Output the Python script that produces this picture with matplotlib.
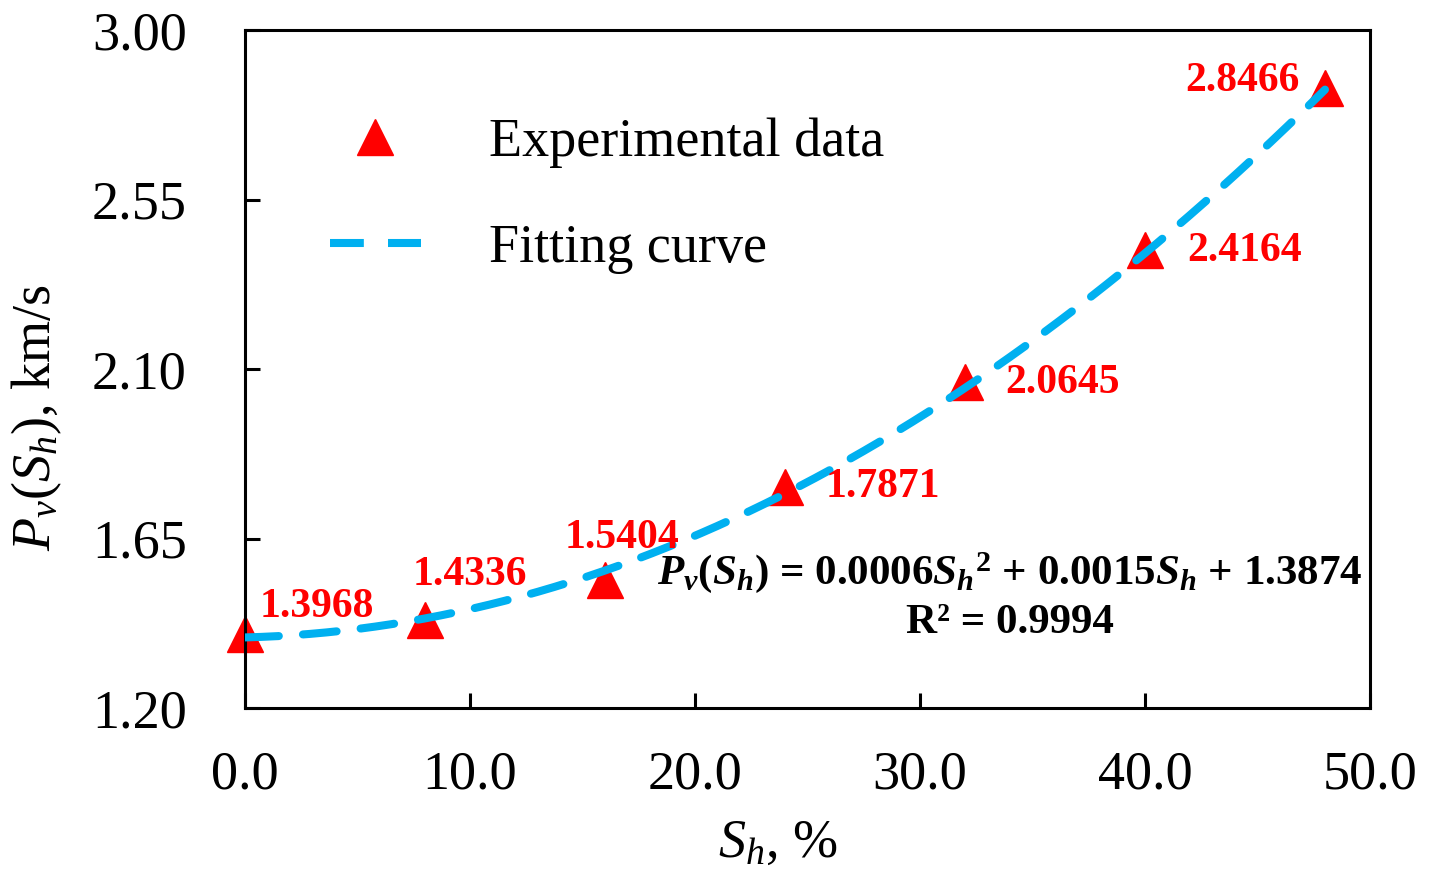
import numpy as np
import matplotlib
matplotlib.use("Agg")
import matplotlib.pyplot as plt
from matplotlib.lines import Line2D

plt.rcParams['font.family'] = ['Liberation Serif', 'DejaVu Serif']
plt.rcParams['mathtext.fontset'] = 'custom'
plt.rcParams['mathtext.rm'] = 'Liberation Serif'
plt.rcParams['mathtext.it'] = 'Liberation Serif:italic'
plt.rcParams['mathtext.bf'] = 'Liberation Serif:bold'
plt.rcParams['mathtext.bfit'] = 'Liberation Serif:bold:italic'

# ---- data ----
sh = [0, 8, 16, 24, 32, 40, 48]
pv = [1.3968, 1.4336, 1.5404, 1.7871, 2.0645, 2.4164, 2.8466]
labels = ["1.3968", "1.4336", "1.5404", "1.7871", "2.0645", "2.4164", "2.8466"]
fit_coef = [0.0006, 0.0015, 1.3874]  # quadratic fit, as stated on chart
xticks = [0, 10, 20, 30, 40, 50]
xticklabels = ["0.0", "10.0", "20.0", "30.0", "40.0", "50.0"]
yticks = [1.20, 1.65, 2.10, 2.55, 3.00]
yticklabels = ["1.20", "1.65", "2.10", "2.55", "3.00"]

fig = plt.figure(figsize=(14.32, 8.73), dpi=100)
ax = fig.add_axes([0.1711, 0.189, 0.7856, 0.7766])

xf = np.linspace(sh[0], sh[-1], 200)
yf = np.polyval(fit_coef, xf)
blue = '#00B0F0'
ax.plot(xf, yf, color=blue, lw=5.8, linestyle=(0, (4.2, 3.0)),
        dash_capstyle='round', zorder=3)
ax.plot(sh, pv, linestyle='none', marker='^', color='#FF0000', ms=26, zorder=2,
        clip_on=False)

offsets = [(15, 27, 'left'), (45, 45, 'center'), (17, 42, 'center'),
           (41, 0, 'left'), (40, -1, 'left'), (42, -1, 'left'), (-25, 7, 'right')]
for x, y, lab, (dx, dy, ha) in zip(sh, pv, labels, offsets):
    ax.annotate(lab, (x, y), xytext=(dx, dy), textcoords='offset pixels',
                ha=ha, va='center', color='#FF0000', fontsize=30,
                fontweight='bold', zorder=4)

ax.set_xlim(0, 50)
ax.set_ylim(1.20, 3.00)
ax.set_xticks(xticks)
ax.set_xticklabels(xticklabels)
ax.set_yticks(yticks)
ax.set_yticklabels(yticklabels)
ax.tick_params(direction='in', length=11, width=2.2, labelsize=39, top=False, right=False)
ax.tick_params(axis='y', pad=42)
ax.tick_params(axis='x', pad=30)
for s in ax.spines.values():
    s.set_linewidth(2.2)

ax.set_xlabel(r'$S_h$, %', fontsize=39, labelpad=13)
ax.set_ylabel(r'$P_v(S_h)$, km/s', fontsize=39, labelpad=20)
ax.xaxis.label.set_x(0.474)
ax.yaxis.label.set_y(0.428)

eq = (r'$\mathbfit{P}_\mathbfit{v}$($\mathbfit{S}_\mathbfit{h}$) = 0.0006${\mathbfit{S}_\mathbfit{h}}^{\mathbf{2}}$'
      r' + 0.0015$\mathbfit{S}_\mathbfit{h}$ + 1.3874')
ax.text(0.68, 0.2, eq, transform=ax.transAxes, ha='center', va='center',
        fontsize=31, fontweight='bold')
ax.text(0.68, 0.126, 'R² = 0.9994', transform=ax.transAxes, ha='center', va='center',
        fontsize=31, fontweight='bold')

handles = [Line2D([], [], linestyle='none', marker='^', color='#FF0000', ms=26),
           Line2D([], [], color=blue, lw=5.8, linestyle=(0, (4.2, 3.0)))]
ax.legend(handles, ['Experimental data', 'Fitting curve'], loc='upper left',
          bbox_to_anchor=(0.0756, 0.871), frameon=False, fontsize=39,
          handlelength=1.67, handletextpad=1.26, labelspacing=1.03,
          borderpad=0, borderaxespad=0)

fig.savefig('out.png', dpi=100)
